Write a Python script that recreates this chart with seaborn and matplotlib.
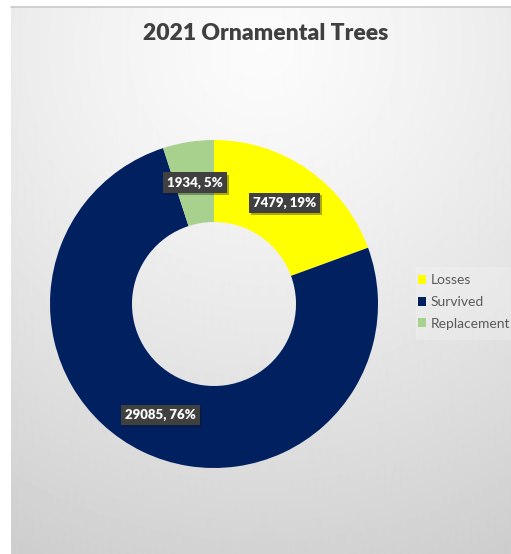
import numpy as np
import matplotlib
matplotlib.use("Agg")
import matplotlib.pyplot as plt
import matplotlib.patheffects as pe
from matplotlib.patches import Rectangle
import seaborn as sns

# Data
categories = ["Losses", "Survived", "Replacement"]
counts = [7479, 29085, 1934]
percent_labels = ["19%", "76%", "5%"]
title = "2021 Ornamental Trees"

sns.set_style("white")
plt.rcParams["font.family"] = ["Lato", "DejaVu Sans"]

palette = sns.color_palette(["#FFFF00", "#002060", "#A9D18E"])

W, H = 511, 554
fig = plt.figure(figsize=(W / 100, H / 100), dpi=100)
fig.patch.set_facecolor("white")

# Chart-area background: soft radial gradient, light at the top centre
bg = fig.add_axes([11 / W, 0, 1 - 11 / W, 1 - 7 / H])
bg.set_axis_off()
yy, xx = np.mgrid[0:547, 0:500]
d = np.hypot(xx - 250, yy - 40)
shade = 0.985 - 0.18 * np.clip(d / 560, 0, 1) ** 1.3
bg.imshow(shade, cmap="gray", vmin=0, vmax=1, aspect="auto",
          extent=[0, 1, 0, 1], interpolation="bilinear")
bg.plot([0, 1], [1, 1], color="#c8c8c8", lw=1.2, transform=bg.transAxes, clip_on=False)
bg.set_xlim(0, 1)
bg.set_ylim(0, 1)

# Faint lighter panel behind the legend
fig.patches.append(Rectangle((416 / W, 1 - 340 / H), (W - 416) / W, 73 / H,
                             transform=fig.transFigure, facecolor="white",
                             alpha=0.2, edgecolor="none"))

# Donut
cx, cy, R = 214, 304, 164
ax = fig.add_axes([(cx - R) / W, 1 - (cy + R) / H, 2 * R / W, 2 * R / H])
ax.set_axis_off()
wedges, _ = ax.pie(counts, colors=palette, startangle=90, counterclock=False,
                   radius=1.0, wedgeprops=dict(width=0.5, edgecolor="none"))
ax.set_xlim(-1, 1)
ax.set_ylim(-1, 1)

total = sum(counts)
start = 90.0
for val, pct in zip(counts, percent_labels):
    sweep = 360.0 * val / total
    mid = np.deg2rad(start - sweep / 2)
    start -= sweep
    r = 0.75
    ax.text(r * np.cos(mid), r * np.sin(mid), f"{val}, {pct}",
            ha="center", va="center", color="white", fontsize=9.5,
            fontweight="heavy",
            bbox=dict(boxstyle="square,pad=0.3", facecolor="#404040",
                      edgecolor="none",
                      path_effects=[pe.withSimplePatchShadow(offset=(1.5, -1.5),
                                                             alpha=0.35)]))

# Title
fig.text(266 / W, 1 - 33 / H, title, ha="center", va="center",
         fontsize=16.5, fontweight="heavy", color="#404040")

# Legend
leg = fig.legend(wedges, categories, loc="center left",
                 bbox_to_anchor=(418 / W, 1 - 302 / H), frameon=False,
                 fontsize=10, handlelength=0.6, handleheight=0.6,
                 handletextpad=0.3, labelspacing=0.7, borderpad=0,
                 borderaxespad=0)
for t in leg.get_texts():
    t.set_color("#595959")

fig.savefig("out.png", dpi=100)
